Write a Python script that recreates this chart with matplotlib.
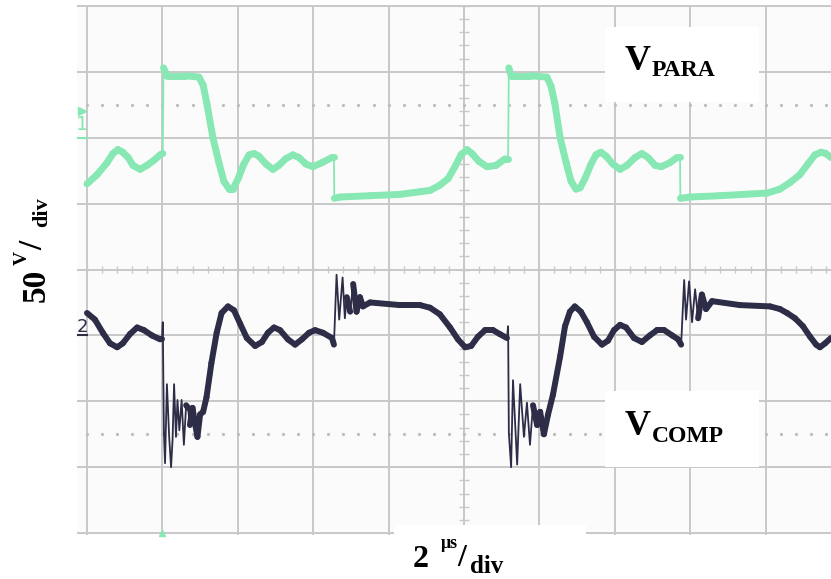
import numpy as np
import matplotlib.pyplot as plt
from matplotlib.collections import LineCollection
from matplotlib.patches import Rectangle

# scope settings
VOLTS_PER_DIV = 50
US_PER_DIV = 2
CH1_GROUND_DIV = 2.0
CH2_GROUND_DIV = -1.0

# channel 1 (V_PARA): time in us, voltage in V
para_t = [-10.00, -9.73, -9.47, -9.31, -9.18, -9.05, -8.91, -8.78, -8.59, -8.41,
          -8.22, -8.06, -7.99, -7.97, -7.88, -7.40, -7.03, -6.92, -6.82, -6.66,
          -6.50, -6.37, -6.23, -6.13, -5.99, -5.84, -5.70, -5.57, -5.44, -5.25,
          -5.07, -4.91, -4.73, -4.54, -4.38, -4.19, -4.01, -3.77, -3.50, -3.45,
          -3.44, -3.29, -2.49, -1.70, -1.17, -0.90, -0.64, -0.42, -0.24, -0.08,
          0.08, 0.21, 0.40, 0.61, 0.85, 1.09, 1.17, 1.19, 1.25, 1.75,
          2.20, 2.31, 2.41, 2.55, 2.71, 2.84, 2.97, 3.08, 3.21, 3.37,
          3.50, 3.63, 3.77, 3.95, 4.14, 4.32, 4.54, 4.72, 4.88, 5.07,
          5.23, 5.46, 5.65, 5.73, 5.74, 5.99, 6.79, 8.04, 8.38, 8.65,
          8.91, 9.12, 9.31, 9.47, 9.60, 9.73]
para_v = [-35, -28, -19, -12, -9, -11, -15, -21, -24, -21,
          -17, -13, -12, 53, 47, 47, 46, 40, 26, 0,
          -19, -33, -39, -39, -31, -20, -13, -12, -14, -20,
          -24, -21, -16, -13, -15, -20, -22, -19, -15, -15,
          -46, -45, -44, -43, -41, -40, -36, -31, -22, -13,
          -9, -12, -18, -22, -21, -16, -16, 53, 47, 47,
          46, 39, 26, 0, -19, -33, -39, -38, -31, -20,
          -13, -11, -14, -20, -24, -21, -15, -12, -15, -21,
          -22, -19, -15, -15, -46, -45, -44, -42, -39, -34,
          -28, -20, -13, -11, -12, -15]

# channel 2 (V_COMP): time in us, voltage in V
comp_t = [-10.00, -9.79, -9.58, -9.39, -9.20, -9.05, -8.86, -8.67, -8.49, -8.28,
          -8.06, -8.01, -7.99, -7.96, -7.93, -7.88, -7.82, -7.77, -7.73, -7.69,
          -7.64, -7.60, -7.55, -7.49, -7.43, -7.37, -7.32, -7.27, -7.20, -7.14,
          -7.07, -7.00, -6.92, -6.83, -6.70, -6.56, -6.43, -6.26, -6.10, -5.94,
          -5.76, -5.54, -5.36, -5.20, -5.04, -4.88, -4.67, -4.48, -4.30, -4.11,
          -3.95, -3.74, -3.50, -3.45, -3.38, -3.31, -3.22, -3.16, -3.11, -3.02,
          -2.94, -2.85, -2.76, -2.68, -2.49, -1.70, -1.17, -0.90, -0.64, -0.37,
          -0.16, 0.03, 0.19, 0.37, 0.56, 0.77, 0.95, 1.14, 1.17, 1.19,
          1.25, 1.30, 1.41, 1.49, 1.59, 1.67, 1.75, 1.83, 1.94, 2.02,
          2.12, 2.23, 2.36, 2.55, 2.68, 2.81, 2.94, 3.10, 3.26, 3.45,
          3.66, 3.82, 3.98, 4.14, 4.30, 4.51, 4.72, 4.93, 5.12, 5.31,
          5.52, 5.68, 5.76, 5.84, 5.89, 5.97, 6.05, 6.13, 6.21, 6.31,
          6.42, 6.58, 7.32, 8.12, 8.38, 8.57, 8.78, 8.99, 9.18, 9.34,
          9.44, 9.58, 9.73]
comp_v = [17, 12, 2, -6, -9, -6, 1, 6, 4, 0,
          -3, -3, 10, -74, -97, -37, -77, -100, -79, -37,
          -77, -49, -72, -49, -83, -53, -55, -68, -55, -66,
          -77, -60, -58, -47, -21, 2, 17, 22, 19, 9,
          -2, -8, -5, 2, 6, 4, -3, -7, -3, 2,
          4, 2, -2, -7, 46, 12, 44, 13, 29, 18,
          39, 18, 29, 22, 25, 23, 23, 21, 16, 6,
          -3, -9, -8, -1, 4, 4, 1, -2, 7, -74,
          -100, -34, -98, -37, -77, -51, -83, -53, -68, -58,
          -75, -60, -45, -16, 7, 18, 22, 18, 10, -1,
          -7, -4, 4, 8, 6, -2, -5, 0, 4, 4,
          0, -3, -7, 42, 12, 41, 10, 35, 13, 31,
          20, 26, 23, 22, 20, 17, 13, 7, -1, -7,
          -9, -6, -2]

GREEN = '#88e8b4'
DARK = '#2d2d48'
GRID = '#c8c8c8'
W, H = 831, 579


def draw_trace(ax, t, v, ground, color, lw_thick):
    t = np.asarray(t, dtype=float)
    y = ground + np.asarray(v, dtype=float) / VOLTS_PER_DIV
    ax.plot(t, y, color=color, lw=1.3, zorder=3)
    pts = np.column_stack([t, y])
    segs = np.stack([pts[:-1], pts[1:]], axis=1)
    slope = np.abs(np.diff(y)) / np.maximum(np.diff(t), 0.005)
    smooth = slope < 5.0  # fast edges and ringing stay thin
    lc = LineCollection(segs[smooth], colors=color, linewidths=lw_thick,
                        capstyle='round', zorder=3)
    ax.add_collection(lc)


def fig_text(fig, x, y, s, size, **kw):
    fig.text(x / W, 1 - y / H, s, fontsize=size, family='Liberation Serif',
             fontweight='bold', va='baseline', ha='left', zorder=6, **kw)


def white_box(fig, x0, y0, x1, y1):
    fig.add_artist(Rectangle((x0 / W, 1 - y1 / H), (x1 - x0) / W, (y1 - y0) / H,
                             transform=fig.transFigure, facecolor='white',
                             edgecolor='none', zorder=5))


def main():
    fig = plt.figure(figsize=(W / 100, H / 100), dpi=100)
    ax = fig.add_axes([77 / W, 1 - 535 / H, (831 - 77) / W, (535 - 5) / H])
    ax.set_xlim(-10.265, 9.735)
    ax.set_ylim(-4.029, 4.014)
    ax.set_facecolor('#fbfbfb')
    for s in ax.spines.values():
        s.set_visible(False)
    ax.set_xticks([])
    ax.set_yticks([])

    # graticule
    for t in np.arange(-5, 6) * US_PER_DIV:
        ax.axvline(t, color=GRID, lw=1.4, zorder=1)
    for d in np.arange(-4, 5):
        ax.axhline(d, color=GRID, lw=1.4, zorder=1)
    minor_t = np.arange(-10, 10, 0.4)
    minor_d = np.arange(-4, 4.01, 0.2)
    ax.vlines(minor_t, -0.06, 0.06, color=GRID, lw=1.0, zorder=1)
    ax.hlines(minor_d, -0.13, 0.13, color=GRID, lw=1.0, zorder=1)
    for d in (2.5, -2.5):
        ax.plot(minor_t, np.full_like(minor_t, d), ls='none', marker='o',
                ms=1.3, color='#bdbdbd', zorder=1)

    draw_trace(ax, comp_t, comp_v, CH2_GROUND_DIV, DARK, 4.3)
    draw_trace(ax, para_t, para_v, CH1_GROUND_DIV, GREEN, 5.0)

    # channel markers
    ax.text(-10.13, 2.2, '1', color=GREEN, fontsize=14, ha='center', va='center')
    ax.plot([-10.25, -10.0], [CH1_GROUND_DIV] * 2, color=GREEN, lw=1.5)
    ax.plot(-10.12, 2.4, marker='>', color=GREEN, ms=6, ls='none')
    ax.text(-10.12, -0.88, '2', color=DARK, fontsize=13, ha='center', va='center')
    ax.plot([-10.25, -10.0], [CH2_GROUND_DIV] * 2, color=DARK, lw=1.5)
    ax.plot(-8.0, -4.0, marker='^', color=GREEN, ms=4, ls='none', clip_on=False)

    # trace name boxes
    white_box(fig, 605, 27, 759, 102)
    fig_text(fig, 625, 70, 'V', 26)
    fig_text(fig, 652, 76, 'PARA', 17)
    white_box(fig, 605, 391, 759, 467)
    fig_text(fig, 625, 435, 'V', 26)
    fig_text(fig, 652, 442, 'COMP', 17)

    # horizontal scale label
    white_box(fig, 394, 525, 586, 579)
    fig_text(fig, 413, 567, '2', 23)
    fig_text(fig, 441, 548, '\u03bcs', 13)
    fig_text(fig, 457, 566, '/', 23)
    fig_text(fig, 470, 573, 'div', 18)

    # vertical scale label
    rot = dict(rotation=90, rotation_mode='anchor')
    fig_text(fig, 45, 302, '50', 24, **rot)
    fig_text(fig, 27, 265, 'V', 14, **rot)
    fig_text(fig, 42, 250, '/', 24, **rot)
    fig_text(fig, 47, 227, 'div', 16, **rot)

    fig.savefig('out.png', dpi=100)
    plt.close(fig)


if __name__ == '__main__':
    main()
